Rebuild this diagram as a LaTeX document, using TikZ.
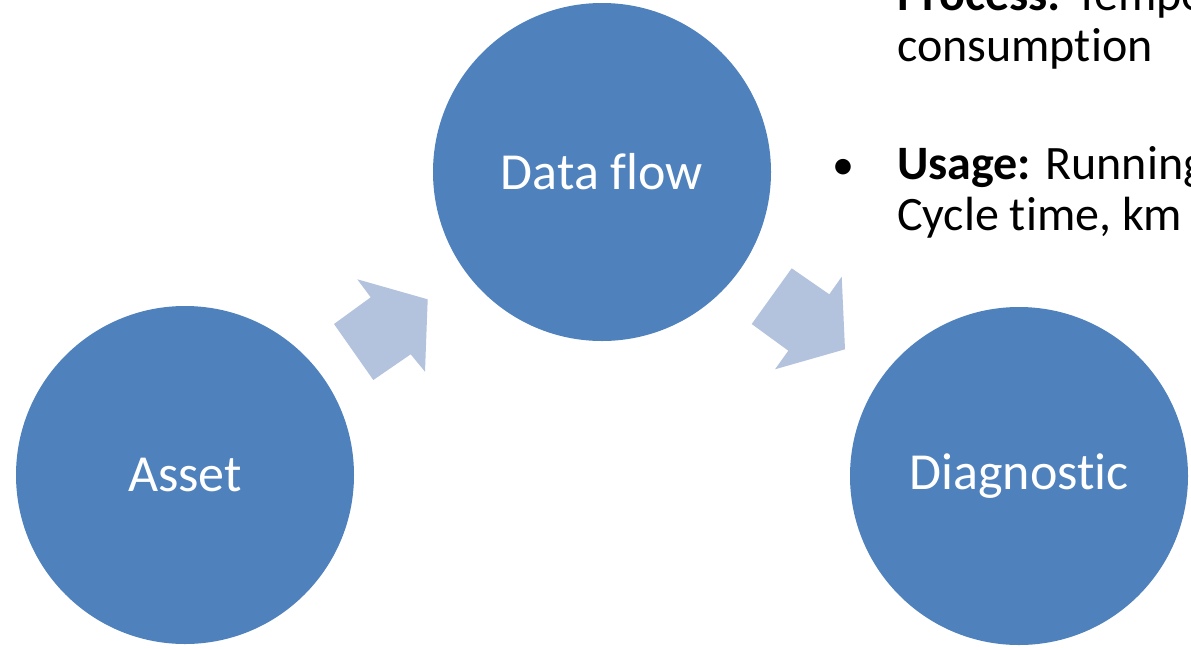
\documentclass[tikz,border=0pt]{standalone}
\usepackage{fontspec}
\setmainfont{Carlito}[Ligatures=NoCommon]
\usetikzlibrary{positioning}
\definecolor{stageblue}{RGB}{79,129,189}
\definecolor{arrowblue}{RGB}{179,194,221}

\begin{document}
\begin{tikzpicture}[x=1pt, y=-1pt,
        stage/.style={circle, fill=stageblue, minimum size=338pt, inner sep=0pt,
                text=white, font=\fontsize{52}{62}\selectfont},
        note/.style={anchor=base west, inner sep=0pt, align=left,
                font=\fontsize{48}{51}\selectfont},
        blockarrow/.style={fill=arrowblue}]
        \useasboundingbox (0, 0) rectangle (1191, 649);
        \clip (0, 0) rectangle (1191, 649);

        \node[stage] (asset) at (185, 475) {Asset};
        \node[stage] (flow) at (602, 172) {Data flow};
        \node[stage] (diag) at (1019, 476) {Diagnostic};

        \fill[blockarrow] (357.3, 279.3) -- (370.7, 297.3) -- (334, 324) -- (373.3, 380)
                -- (410.7, 354.3) -- (425, 371.7) -- (427.7, 299.3) -- cycle;
        \fill[blockarrow] (791.7, 268.3) -- (829.3, 294.3) -- (841.7, 276.7) -- (845, 349.3)
                -- (775, 369.3) -- (788.3, 350.7) -- (751.7, 324) -- cycle;

        % last line of each note sits on the given baseline
        \node[note] (process) at (897, 61) {\textbf{Process:} Tempe\\consumption};
        \node[note] (usage) at (897, 230) {\textbf{Usage:} Running\\Cycle time, km};
        \node[note, anchor=base east, font=\fontsize{44}{51}\selectfont] (dot) at (855, 179) {•};
\end{tikzpicture}
\end{document}
